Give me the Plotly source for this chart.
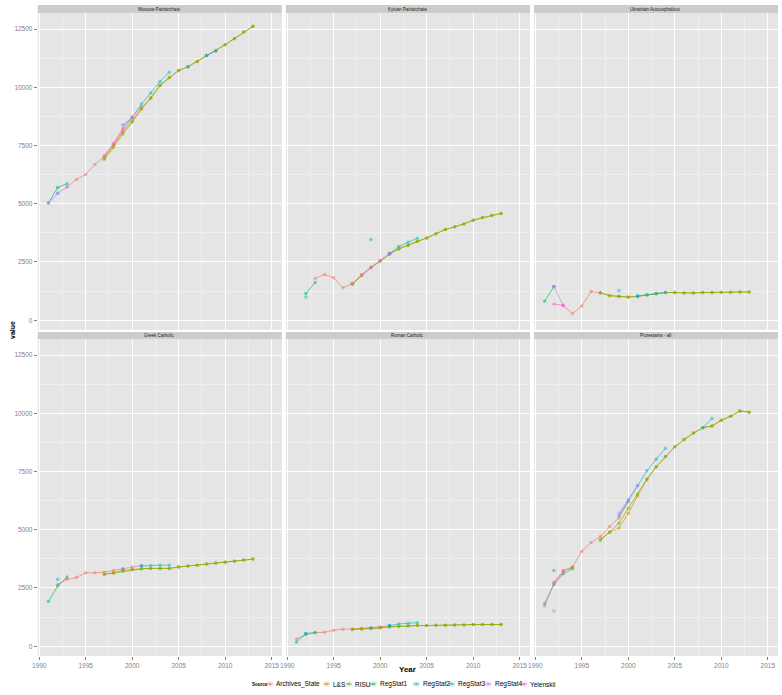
import plotly.graph_objects as go

# ---------------- data ----------------
PANELS = ["Moscow Patriarchate", "Kyivan Patriarchate", "Ukrainian Autocephalous",
          "Greek Catholic", "Roman Catholic", "Protestants - all"]
SOURCES = ["Archives_State", "L&S", "RISU", "RegStat1", "RegStat2", "RegStat3", "RegStat4", "Yelenskii"]
COLORS = ["#F8766D", "#CD9600", "#7CAE00", "#00BE67", "#00BFC4", "#00A9FF", "#C77CFF", "#FF61CC"]
X_TICKS = [1990, 1995, 2000, 2005, 2010, 2015]
Y_TICKS = [0, 2500, 5000, 7500, 10000, 12500]

YEARS_9713 = list(range(1997, 2014))

# Moscow Patriarchate
mp_archives_yr = [1993, 1994, 1995, 1996, 1997, 1998, 1999, 2000]
mp_archives = [5720, 6040, 6260, 6690, 7030, 7550, 8170, 8690]
mp_ls = [6950, 7500, 8080, 8560, 9100, 9560, 10100, 10430, 10720, 10880, 11110, 11370, 11570, 11830, 12090, 12370, 12620]
mp_risu = [6900, 7420, 8000, 8500, 9060, 9520, 10070, 10410, 10720, 10880, 11110, 11370, 11570, 11830, 12090, 12370, 12620]
mp_rs1_yr = [1991, 1992, 1993]
mp_rs1 = [5030, 5700, 5860]
mp_rs2_yr = [1999, 2000, 2001, 2002, 2003, 2004]
mp_rs2 = [8380, 8700, 9280, 9750, 10250, 10650]
mp_rs3_yr = [1992, 1993, 2006, 2007, 2008, 2009]
mp_rs3 = [5450, None, 10880, None, 11370, 11570]
mp_rs4_yr = [1991, 1992, 1993]
mp_rs4 = [5030, 5450, 5720]
mp_yel_yr = [1997, 1998, 1999, 2000, 2001]
mp_yel = [7060, 7600, 8230, 8720, 9180]

# Kyivan Patriarchate
kp_archives_yr = [1993, 1994, 1995, 1996, 1997]
kp_archives = [1790, 1960, 1820, 1390, 1575]
kp_ls = [1560, 1940, 2260, 2560, 2850, 3080, 3220, 3390, 3535, 3710, 3895, 4010, 4135, 4295, 4410, 4495, 4580]
kp_risu = [1545, 1920, 2275, 2535, 2835, 3050, 3205, 3390, 3535, 3710, 3895, 4010, 4135, 4295, 4410, 4495, 4580]
kp_rs1_yr = [1992, 1993]
kp_rs1 = [1145, 1620]
kp_rs2_yr = [1992, 1993, 2001, 2002, 2003, 2004]
kp_rs2 = [1000, None, 2865, 3165, 3350, 3520]
kp_rs3_yr = [1999, 2000, 2001]
kp_rs3 = [3465, None, 2865]
kp_yel_yr = [1997, 1998, 1999, 2000, 2001]
kp_yel = [1575, 1950, 2250, 2560, 2860]

# Ukrainian Autocephalous
ua_archives_yr = [1993, 1994, 1995, 1996, 1997]
ua_archives = [630, 285, 615, 1230, 1175]
ua_ls = [1175, 1060, 1030, 1000, 1030, 1085, 1145, 1190, 1190, 1170, 1170, 1190, 1190, 1200, 1200, 1215, 1215]
ua_risu = [1170, 1050, 1020, 990, 1020, 1080, 1140, 1190, 1190, 1170, 1170, 1190, 1190, 1200, 1200, 1215, 1215]
ua_rs1_yr = [1991, 1992]
ua_rs1 = [815, 1445]
ua_rs2_yr = [2001, 2002, 2003, 2004]
ua_rs2 = [1040, 1090, 1150, 1195]
ua_rs3_yr = [1992, 1993, 1999, 2000, 2001]
ua_rs3 = [1445, None, 1260, None, 1030]
ua_rs4_yr = [1992, 1993]
ua_rs4 = [1445, 630]
ua_yel_yr = [1992, 1993]
ua_yel = [700, 640]

# Greek Catholic
gc_archives_yr = [1992, 1993, 1994, 1995, 1996, 1997, 1998, 1999, 2000, 2001]
gc_archives = [2650, 2870, 2950, 3150, 3150, 3180, 3250, 3320, 3400, 3465]
gc_ls = [3100, 3150, 3250, 3300, 3330, 3340, 3340, 3340, 3400, 3440, 3480, 3530, 3570, 3610, 3650, 3700, 3740]
gc_risu = [3080, 3140, 3225, 3280, 3320, 3340, 3340, 3340, 3400, 3440, 3480, 3530, 3570, 3610, 3650, 3700, 3740]
gc_rs1_yr = [1991, 1992, 1993]
gc_rs1 = [1925, 2585, 2970]
gc_rs2_yr = [2001, 2002, 2003, 2004]
gc_rs2 = [3440, 3465, 3480, 3480]
gc_rs3_yr = [1992, 1993, 1999, 2000, 2001]
gc_rs3 = [2870, None, 3320, None, 3440]

# Roman Catholic
rc_archives_yr = [1991, 1992, 1993, 1994, 1995, 1996, 1997, 1998, 1999, 2000, 2001]
rc_archives = [310, 490, 585, 600, 685, 730, 740, 760, 785, 830, 885]
rc_ls = [730, 745, 770, 800, 840, 860, 875, 885, 885, 900, 900, 915, 915, 930, 930, 930, 930]
rc_risu = [715, 730, 760, 785, 830, 855, 870, 885, 885, 900, 900, 915, 915, 930, 930, 930, 930]
rc_rs1_yr = [1991, 1992, 1993]
rc_rs1 = [185, 545, 585]
rc_rs2_yr = [2001, 2002, 2003, 2004]
rc_rs2 = [885, 955, 985, 1010]
rc_rs3_yr = [1992, 1993, 1999, 2000, 2001]
rc_rs3 = [545, None, 785, None, 885]

# Protestants - all
pr_archives_yr = [1992, 1993, 1994, 1995, 1996, 1997, 1998, 1999, 2000]
pr_archives = [2750, 3210, 3400, 4080, 4450, 4710, 5140, 5510, 6200]
pr_ls_yr = list(range(1993, 2014))
pr_ls = [3250, 3400, None, None, 4600, 4900, 5080, 5710, 6450, 7150, 7700, 8150, 8560, 8870, 9150, 9375, 9460, 9700, 9870, 10100, 10050]
pr_risu = [4540, 4890, 5280, 5920, 6530, 7180, 7700, 8150, 8560, 8870, 9150, 9375, 9460, 9700, 9870, 10100, 10050]
pr_rs1_yr = [1991, 1992, 1993, 1994]
pr_rs1 = [1825, 2655, 3110, 3330]
pr_rs2_yr = [1999, 2000, 2001, 2002, 2003, 2004, 2005, 2008, 2009]
pr_rs2 = [5600, 6250, 6890, 7530, 8030, 8500, None, 9375, 9780]
pr_rs3_yr = [1992]
pr_rs3 = [3255]
pr_rs4_yr = [1992, 1993, 1999, 2000, 2001]
pr_rs4 = [1510, None, 5710, 6300, 6900]
pr_yel_yr = [1991, 1992, 1993]
pr_yel = [1725, 2700, 3210]

# panel -> {source: (years, values)}
SERIES = [
    {"Archives_State": (mp_archives_yr, mp_archives), "L&S": (YEARS_9713, mp_ls), "RISU": (YEARS_9713, mp_risu),
     "RegStat1": (mp_rs1_yr, mp_rs1), "RegStat2": (mp_rs2_yr, mp_rs2), "RegStat3": (mp_rs3_yr, mp_rs3),
     "RegStat4": (mp_rs4_yr, mp_rs4), "Yelenskii": (mp_yel_yr, mp_yel)},
    {"Archives_State": (kp_archives_yr, kp_archives), "L&S": (YEARS_9713, kp_ls), "RISU": (YEARS_9713, kp_risu),
     "RegStat1": (kp_rs1_yr, kp_rs1), "RegStat2": (kp_rs2_yr, kp_rs2), "RegStat3": (kp_rs3_yr, kp_rs3),
     "Yelenskii": (kp_yel_yr, kp_yel)},
    {"Archives_State": (ua_archives_yr, ua_archives), "L&S": (YEARS_9713, ua_ls), "RISU": (YEARS_9713, ua_risu),
     "RegStat1": (ua_rs1_yr, ua_rs1), "RegStat2": (ua_rs2_yr, ua_rs2), "RegStat3": (ua_rs3_yr, ua_rs3),
     "RegStat4": (ua_rs4_yr, ua_rs4), "Yelenskii": (ua_yel_yr, ua_yel)},
    {"Archives_State": (gc_archives_yr, gc_archives), "L&S": (YEARS_9713, gc_ls), "RISU": (YEARS_9713, gc_risu),
     "RegStat1": (gc_rs1_yr, gc_rs1), "RegStat2": (gc_rs2_yr, gc_rs2), "RegStat3": (gc_rs3_yr, gc_rs3)},
    {"Archives_State": (rc_archives_yr, rc_archives), "L&S": (YEARS_9713, rc_ls), "RISU": (YEARS_9713, rc_risu),
     "RegStat1": (rc_rs1_yr, rc_rs1), "RegStat2": (rc_rs2_yr, rc_rs2), "RegStat3": (rc_rs3_yr, rc_rs3)},
    {"Archives_State": (pr_archives_yr, pr_archives), "L&S": (pr_ls_yr, pr_ls), "RISU": (YEARS_9713, pr_risu),
     "RegStat1": (pr_rs1_yr, pr_rs1), "RegStat2": (pr_rs2_yr, pr_rs2), "RegStat3": (pr_rs3_yr, pr_rs3),
     "RegStat4": (pr_rs4_yr, pr_rs4), "Yelenskii": (pr_yel_yr, pr_yel)},
]

# ---------------- layout geometry ----------------
W, H = 782, 695
COL_X = [(32, 278), (282, 528), (532, 778)]
ROW_Y = [(13, 330), (339, 656)]
STRIP_Y = [(5, 13), (332, 339)]
X_RANGE = [1989.85, 2016.1]
Y_RANGE = [-420, 13190]
FONT = "Liberation Sans, Arial, sans-serif"


def rgba(hex_color, a):
    h = hex_color.lstrip("#")
    return "rgba(%d,%d,%d,%.2f)" % (int(h[0:2], 16), int(h[2:4], 16), int(h[4:6], 16), a)


fig = go.Figure()
layout = dict(width=W, height=H, margin=dict(l=0, r=0, t=0, b=0),
              paper_bgcolor="white", plot_bgcolor="#E5E5E5", showlegend=False,
              font=dict(family=FONT))
shapes, annotations = [], []

for i, panel in enumerate(PANELS):
    r, c = divmod(i, 3)
    xa = "x" if i == 0 else "x%d" % (i + 1)
    ya = "y" if i == 0 else "y%d" % (i + 1)
    xkey = "xaxis" if i == 0 else "xaxis%d" % (i + 1)
    ykey = "yaxis" if i == 0 else "yaxis%d" % (i + 1)
    x0, x1 = COL_X[c]
    yt, yb = ROW_Y[r]
    layout[xkey] = dict(domain=[x0 / W, x1 / W], anchor=ya, range=X_RANGE,
                        tickvals=X_TICKS, ticktext=[str(v) for v in X_TICKS],
                        showticklabels=(r == 1), ticks="outside" if r == 1 else "",
                        ticklen=3, tickcolor="#7F7F7F", tickfont=dict(size=6.5, color="#7F7F7F"),
                        showgrid=True, gridcolor="white", gridwidth=1, zeroline=False, showline=False,
                        minor=dict(tickvals=[1992.5, 1997.5, 2002.5, 2007.5, 2012.5], showgrid=True,
                                   gridcolor="#EFEFEF", gridwidth=0.5))
    layout[ykey] = dict(domain=[1 - yb / H, 1 - yt / H], anchor=xa, range=Y_RANGE,
                        tickvals=Y_TICKS, ticktext=[str(v) for v in Y_TICKS],
                        showticklabels=(c == 0), ticks="outside" if c == 0 else "",
                        ticklen=3, tickcolor="#7F7F7F", tickfont=dict(size=6.5, color="#7F7F7F"),
                        showgrid=True, gridcolor="white", gridwidth=1, zeroline=False, showline=False,
                        minor=dict(tickvals=[1250, 3750, 6250, 8750, 11250], showgrid=True,
                                   gridcolor="#EFEFEF", gridwidth=0.5))
    st, sb = STRIP_Y[r]
    shapes.append(dict(type="rect", xref="paper", yref="paper", x0=x0 / W, x1=x1 / W,
                       y0=1 - sb / H, y1=1 - st / H, fillcolor="#CCCCCC", line=dict(width=0), layer="below"))
    annotations.append(dict(text=panel, xref="paper", yref="paper", x=(x0 + x1) / 2 / W,
                            y=1 - (st + sb) / 2 / H, showarrow=False, font=dict(size=4.5, color="#1A1A1A"),
                            xanchor="center", yanchor="middle"))
    for s, col in zip(SOURCES, COLORS):
        if s not in SERIES[i]:
            continue
        yrs, vals = SERIES[i][s]
        fig.add_trace(go.Scatter(x=yrs, y=vals, xaxis=xa, yaxis=ya, mode="lines+markers", name=s,
                                 line=dict(color=rgba(col, 0.85), width=0.8),
                                 marker=dict(color=rgba(col, 0.5), size=3.5, line=dict(width=0)),
                                 connectgaps=False, hoverinfo="x+y+name"))

# axis titles
annotations.append(dict(text="<b>Year</b>", xref="paper", yref="paper", x=405 / W, y=1 - 669 / H,
                        showarrow=False, font=dict(size=8, color="black"), xanchor="center", yanchor="middle"))
annotations.append(dict(text="<b>value</b>", xref="paper", yref="paper", x=7 / W, y=1 - 330 / H,
                        showarrow=False, textangle=-90, font=dict(size=7, color="black"),
                        xanchor="center", yanchor="middle"))

# custom legend
LEG_Y = 684
LEG_KEY_X = [266, 323, 345.5, 370, 413.5, 449, 486, 522]
annotations.append(dict(text="<b>Source</b>", xref="paper", yref="paper", x=256 / W, y=1 - LEG_Y / H,
                        showarrow=False, font=dict(size=4.5, color="black"), xanchor="center", yanchor="middle"))
for s, col, kx in zip(SOURCES, COLORS, LEG_KEY_X):
    shapes.append(dict(type="rect", xref="paper", yref="paper", x0=(kx - 3.5) / W, x1=(kx + 3.5) / W,
                       y0=1 - (LEG_Y + 3.5) / H, y1=1 - (LEG_Y - 3.5) / H, fillcolor="#F2F2F2",
                       line=dict(width=0.5, color="white")))
    shapes.append(dict(type="line", xref="paper", yref="paper", x0=(kx - 3.2) / W, x1=(kx + 3.2) / W,
                       y0=1 - LEG_Y / H, y1=1 - LEG_Y / H, line=dict(color=rgba(col, 0.85), width=0.8)))
    shapes.append(dict(type="circle", xref="paper", yref="paper", x0=(kx - 1.5) / W, x1=(kx + 1.5) / W,
                       y0=1 - (LEG_Y + 1.5) / H, y1=1 - (LEG_Y - 1.5) / H, fillcolor=rgba(col, 0.55),
                       line=dict(width=0)))
    annotations.append(dict(text=s.replace("&", "&amp;"), xref="paper", yref="paper",
                            x=(kx + 4.5) / W, y=1 - LEG_Y / H, showarrow=False,
                            font=dict(size=6.5, color="black"), xanchor="left", yanchor="middle"))

layout["shapes"] = shapes
layout["annotations"] = annotations
fig.update_layout(**layout)
fig.write_html("out.html", config={"displayModeBar": False},
               post_script="document.body.style.margin='0px';document.body.style.padding='0px';"
                           "document.documentElement.style.overflow='hidden';")
